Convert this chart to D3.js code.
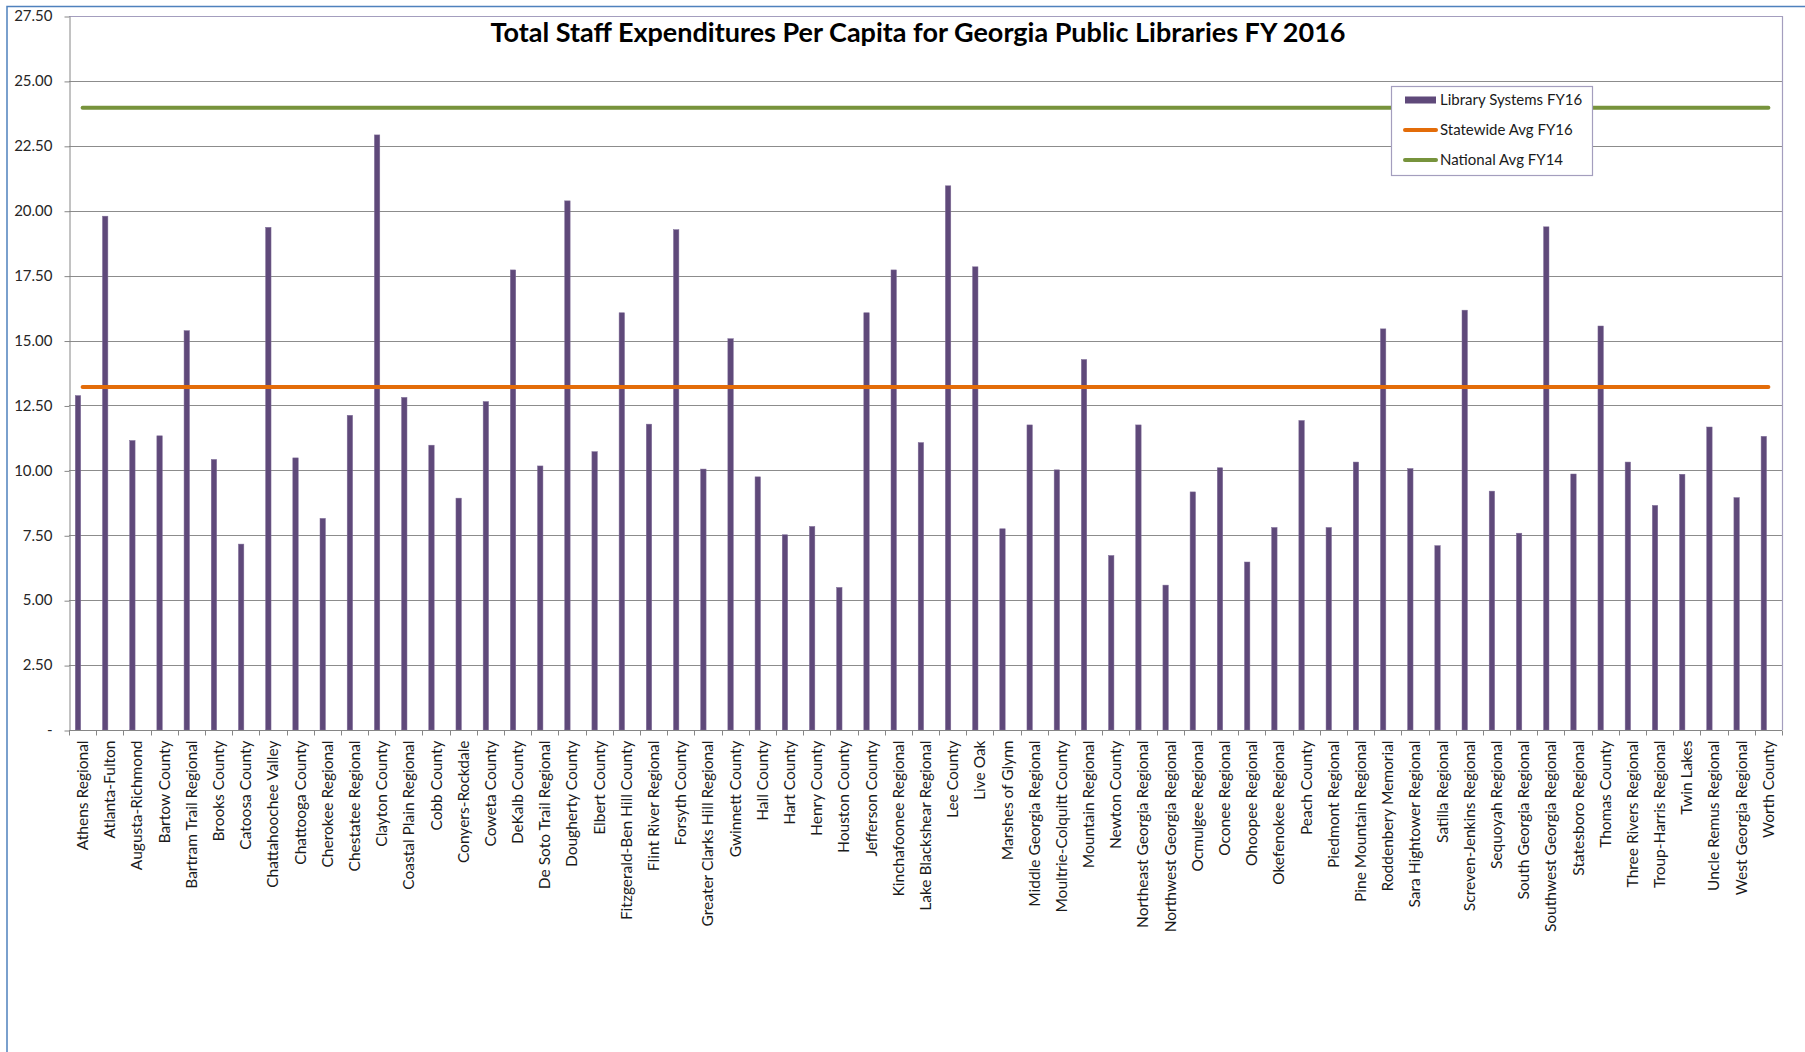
<!DOCTYPE html>
<html>
<head>
  <meta charset="utf-8">
  <script src="https://d3js.org/d3.v7.min.js"></script>
  <style>
    body { margin: 0; background: #fff; }
    text { font-family: Lato, "Liberation Sans", sans-serif; }
  </style>
</head>
<body>
  <div id="chart"></div>
  <script>
    // library systems, in axis order
    const categories = [
      "Athens Regional", "Atlanta-Fulton", "Augusta-Richmond", "Bartow County", "Bartram Trail Regional",
      "Brooks County", "Catoosa County", "Chattahoochee Valley", "Chattooga County", "Cherokee Regional",
      "Chestatee Regional", "Clayton County", "Coastal Plain Regional", "Cobb County", "Conyers-Rockdale",
      "Coweta County", "DeKalb County", "De Soto Trail Regional", "Dougherty County", "Elbert County",
      "Fitzgerald-Ben Hill County", "Flint River Regional", "Forsyth County", "Greater Clarks Hill Regional",
      "Gwinnett County", "Hall County", "Hart County", "Henry County", "Houston County", "Jefferson County",
      "Kinchafoonee Regional", "Lake Blackshear Regional", "Lee County", "Live Oak", "Marshes of Glynn",
      "Middle Georgia Regional", "Moultrie-Colquitt County", "Mountain Regional", "Newton County",
      "Northeast Georgia Regional", "Northwest Georgia Regional", "Ocmulgee Regional", "Oconee Regional",
      "Ohoopee Regional", "Okefenokee Regional", "Peach County", "Piedmont Regional", "Pine Mountain Regional",
      "Roddenbery Memorial", "Sara Hightower Regional", "Satilla Regional", "Screven-Jenkins Regional",
      "Sequoyah Regional", "South Georgia Regional", "Southwest Georgia Regional", "Statesboro Regional",
      "Thomas County", "Three Rivers Regional", "Troup-Harris Regional", "Twin Lakes", "Uncle Remus Regional",
      "West Georgia Regional", "Worth County"
    ];

    // Library Systems FY16
    const libraryValues = [
      12.88, 19.79, 11.15, 11.33, 15.38,
      10.42, 7.16, 19.36, 10.48, 8.15,
      12.12, 22.92, 12.81, 10.97, 8.93,
      12.65, 17.72, 10.17, 20.38, 10.72,
      16.07, 11.78, 19.27, 10.05,
      15.07, 9.75, 7.52, 7.84, 5.49, 16.07,
      17.72, 11.07, 20.96, 17.84, 7.75,
      11.75, 10.02, 14.27, 6.72,
      11.75, 5.58, 9.17, 10.1,
      6.47, 7.8, 11.92, 7.8, 10.32,
      15.45, 10.07, 7.1, 16.17,
      9.2, 7.58, 19.38, 9.86,
      15.56, 10.32, 8.65, 9.85, 11.67,
      8.95, 11.31
    ];

    const statewideAvg = 13.21;   // Statewide Avg FY16
    const nationalAvg = 23.97;    // National Avg FY14

    const yTicks = [0, 2.5, 5, 7.5, 10, 12.5, 15, 17.5, 20, 22.5, 25, 27.5];
    const legendLabels = ["Library Systems FY16", "Statewide Avg FY16", "National Avg FY14"];

    const width = 1805, height = 1052;
    const plot = { left: 69, right: 1782, top: 16, bottom: 730 };
    const barColor = "#5F497A", stateColor = "#E36C09", nationColor = "#77933C";

    const svg = d3.select("#chart").append("svg")
      .attr("width", width)
      .attr("height", height);

    // outer chart frame (only left and top visible in the shot)
    svg.append("path")
      .attr("d", "M7," + height + "V6.5H" + width)
      .attr("fill", "none")
      .attr("stroke", "#4F81BD")
      .attr("stroke-width", 1.5);

    const x = d3.scaleBand()
      .domain(categories)
      .range([plot.left, plot.right])
      .padding(0);

    const y = d3.scaleLinear()
      .domain([0, 27.5])
      .range([plot.bottom, plot.top]);

    // gridlines
    svg.append("g")
      .selectAll("line")
      .data(yTicks.filter(d => d > 0 && d < 27.5))
      .enter().append("line")
      .attr("x1", plot.left)
      .attr("x2", plot.right)
      .attr("y1", d => Math.round(y(d)) + 0.5)
      .attr("y2", d => Math.round(y(d)) + 0.5)
      .attr("stroke", "#8C8C8C")
      .attr("stroke-width", 1);

    // plot area border (top / right)
    svg.append("path")
      .attr("d", "M" + plot.left + "," + (plot.top + 0.5) + "H" + (plot.right + 0.5) + "V" + plot.bottom)
      .attr("fill", "none")
      .attr("stroke", "#A49EBE")
      .attr("stroke-width", 1.2);

    // y axis
    const fmt = d => d === 0 ? "-" : d3.format(".2f")(d);
    const yAxis = svg.append("g")
      .attr("transform", "translate(" + (plot.left + 0.5) + ",0)")
      .call(d3.axisLeft(y).tickValues(yTicks).tickFormat(fmt).tickSize(5).tickSizeOuter(0));
    yAxis.select(".domain").attr("stroke", "#868686");
    yAxis.selectAll(".tick line").attr("stroke", "#868686").attr("transform", "translate(0,0.5)");
    yAxis.selectAll(".tick text")
      .attr("x", -17)
      .style("font-size", "15px")
      .style("fill", "#262626")
      .style("font-family", "Lato, sans-serif");

    // bars
    const barW = 5.4, barShift = 4.6;
    svg.append("g")
      .selectAll("rect")
      .data(categories)
      .enter().append("rect")
      .attr("x", (d, i) => x(d) + x.bandwidth() / 2 - barShift - barW / 2)
      .attr("y", (d, i) => y(libraryValues[i]))
      .attr("width", barW)
      .attr("height", (d, i) => y(0) - y(libraryValues[i]))
      .attr("fill", barColor)
      .attr("stroke", "#7F6D97")
      .attr("stroke-width", 0.5);

    // x axis
    const xAxisG = svg.append("g")
      .attr("transform", "translate(0," + (plot.bottom + 0.5) + ")");
    xAxisG.append("line")
      .attr("x1", plot.left)
      .attr("x2", plot.right)
      .attr("stroke", "#868686");
    xAxisG.selectAll(".xt")
      .data(categories.concat(["__end"]))
      .enter().append("line")
      .attr("class", "xt")
      .attr("x1", d => d === "__end" ? plot.right + 0.5 : Math.round(x(d)) + 0.5)
      .attr("x2", d => d === "__end" ? plot.right + 0.5 : Math.round(x(d)) + 0.5)
      .attr("y1", 0)
      .attr("y2", 5)
      .attr("stroke", "#868686");
    xAxisG.selectAll(".xl")
      .data(categories)
      .enter().append("text")
      .attr("class", "xl")
      .attr("transform", d => "translate(" + (x(d) + x.bandwidth() / 2) + ",10) rotate(-90)")
      .attr("text-anchor", "end")
      .attr("dy", "0.35em")
      .style("font-size", "15.5px")
      .style("fill", "#1a1a1a")
      .text(d => d);

    // average lines across category centres
    const line = d3.line()
      .x(d => x(d.c) + x.bandwidth() / 2)
      .y(d => y(d.v));
    const ends = [categories[0], categories[categories.length - 1]];

    svg.append("path")
      .datum(ends.map(c => ({ c: c, v: nationalAvg })))
      .attr("d", line)
      .attr("fill", "none")
      .attr("stroke", nationColor)
      .attr("stroke-width", 4)
      .attr("stroke-linecap", "round");

    svg.append("path")
      .datum(ends.map(c => ({ c: c, v: statewideAvg })))
      .attr("d", line)
      .attr("fill", "none")
      .attr("stroke", stateColor)
      .attr("stroke-width", 4)
      .attr("stroke-linecap", "round");

    // title
    svg.append("text")
      .attr("x", 918)
      .attr("y", 42)
      .attr("text-anchor", "middle")
      .style("font-size", "27px")
      .style("font-weight", "bold")
      .style("fill", "#000")
      .text("Total Staff Expenditures Per Capita for Georgia Public Libraries FY 2016");

    // legend
    const legend = svg.append("g").attr("transform", "translate(1391,86)");
    legend.append("rect")
      .attr("x", 0.5)
      .attr("y", 0.5)
      .attr("width", 201)
      .attr("height", 89)
      .attr("fill", "#fff")
      .attr("stroke", "#A49EBE")
      .attr("stroke-width", 1.2);

    const rows = legend.selectAll(".lg")
      .data(legendLabels)
      .enter().append("g")
      .attr("class", "lg")
      .attr("transform", (d, i) => "translate(0," + (14 + i * 30) + ")");

    rows.each(function (d, i) {
      const g = d3.select(this);
      if (i === 0) {
        g.append("rect")
          .attr("x", 14)
          .attr("y", -3.5)
          .attr("width", 31)
          .attr("height", 7)
          .attr("fill", barColor);
      } else {
        g.append("line")
          .attr("x1", 14)
          .attr("x2", 45)
          .attr("stroke", i === 1 ? stateColor : nationColor)
          .attr("stroke-width", 4)
          .attr("stroke-linecap", "round");
      }
      g.append("text")
        .attr("x", 49)
        .attr("dy", "0.35em")
        .style("font-size", "15px")
        .style("fill", "#1a1a1a")
        .text(d);
    });
  </script>
</body>
</html>
